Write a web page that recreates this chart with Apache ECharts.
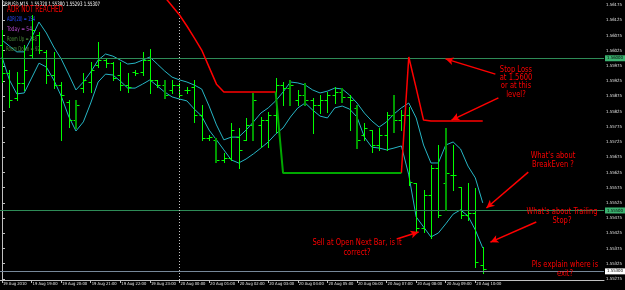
<!DOCTYPE html>
<html><head><meta charset="utf-8">
<script src="https://cdn.jsdelivr.net/npm/echarts@6/dist/echarts.min.js"></script>
<style>html,body{margin:0;padding:0;background:#000;}#c{width:625px;height:290px;}</style>
</head><body><div id="c"></div>
<script>
// ---- data (GBPUSD M15, bar index 0 = 19 Aug 2010 18:00) ----
const OPEN = [1.56044,1.55952,1.55869,1.55919,1.56011,1.56076,1.56021,1.55945,1.55912,1.55856,1.55797,1.55902,1.55922,1.55978,1.55994,1.55984,1.55945,1.55912,1.55955,1.55955,1.55994,1.55929,1.55912,1.55896,1.55912,1.55896,1.55906,1.55814,1.55738,1.55732,1.55666,1.55672,1.55741,1.55732,1.55781,1.55781,1.55797,1.55814,1.55912,1.55902,1.55863,1.55879,1.55863,1.55846,1.55863,1.55879,1.55889,1.55873,1.55837,1.55748,1.55764,1.55715,1.55748,1.55814,1.55797,1.55814,1.55590,1.55442,1.55551,1.55640,1.55590,1.55617,1.55577,1.55485,1.55492,1.55320];
const HIGH = [1.56093,1.55962,1.55955,1.56044,1.56142,1.56086,1.56027,1.56021,1.55922,1.55863,1.55863,1.55952,1.55988,1.56053,1.56001,1.55988,1.55988,1.55952,1.55962,1.56021,1.56030,1.55929,1.55929,1.55929,1.55919,1.55906,1.55929,1.55846,1.55748,1.55738,1.55689,1.55787,1.55771,1.55804,1.55886,1.55807,1.55823,1.55935,1.55922,1.55929,1.55896,1.55919,1.55869,1.55879,1.55889,1.55906,1.55902,1.55879,1.55846,1.55787,1.55764,1.55771,1.55823,1.55879,1.55830,1.55840,1.55590,1.55567,1.55649,1.55715,1.55771,1.55715,1.55577,1.55590,1.55574,1.55380];
const LOW = [1.55922,1.55840,1.55863,1.55896,1.56004,1.56017,1.55919,1.55902,1.55732,1.55774,1.55771,1.55889,1.55889,1.55971,1.55971,1.55929,1.55896,1.55889,1.55945,1.55945,1.55886,1.55906,1.55869,1.55886,1.55873,1.55886,1.55791,1.55732,1.55732,1.55659,1.55659,1.55666,1.55640,1.55732,1.55732,1.55708,1.55708,1.55758,1.55846,1.55846,1.55846,1.55846,1.55754,1.55820,1.55823,1.55853,1.55856,1.55764,1.55705,1.55732,1.55692,1.55699,1.55699,1.55758,1.55764,1.55584,1.55429,1.55429,1.55410,1.55479,1.55502,1.55567,1.55475,1.55469,1.55314,1.55293];
const CLOSE = [1.55952,1.55863,1.55919,1.55962,1.56093,1.56027,1.55945,1.55912,1.55879,1.55797,1.55846,1.55929,1.55962,1.55994,1.55984,1.55935,1.55912,1.55906,1.55952,1.55994,1.55929,1.55912,1.55879,1.55912,1.55879,1.55896,1.55814,1.55738,1.55741,1.55666,1.55672,1.55764,1.55699,1.55781,1.55863,1.55797,1.55814,1.55912,1.55902,1.55912,1.55879,1.55863,1.55846,1.55863,1.55879,1.55889,1.55873,1.55863,1.55732,1.55771,1.55715,1.55748,1.55814,1.55797,1.55814,1.55594,1.55442,1.55551,1.55640,1.55485,1.55623,1.55617,1.55485,1.55492,1.55331,1.55307];
// bars highlighted by the dark-green histogram overlay
const MARKED_BARS = [10,22,29,34,39,41,46,48,53,60];
const UPPER = [1.56060,1.56040,1.56021,1.56021,1.56067,1.56119,1.56083,1.56037,1.55998,1.55948,1.55896,1.55922,1.55955,1.55994,1.56014,1.56007,1.55994,1.55981,1.55984,1.55994,1.56004,1.55981,1.55958,1.55938,1.55929,1.55922,1.55912,1.55899,1.55843,1.55781,1.55732,1.55741,1.55741,1.55764,1.55791,1.55820,1.55837,1.55860,1.55889,1.55922,1.55919,1.55912,1.55896,1.55886,1.55892,1.55902,1.55899,1.55879,1.55853,1.55820,1.55794,1.55774,1.55791,1.55817,1.55837,1.55853,1.55804,1.55715,1.55656,1.55656,1.55715,1.55725,1.55702,1.55646,1.55607,1.55525];
const LOWER = [1.56004,1.55929,1.55883,1.55886,1.55935,1.55984,1.55971,1.55929,1.55876,1.55810,1.55761,1.55791,1.55853,1.55922,1.55948,1.55945,1.55925,1.55902,1.55902,1.55915,1.55929,1.55909,1.55889,1.55873,1.55866,1.55860,1.55833,1.55810,1.55764,1.55732,1.55699,1.55666,1.55656,1.55669,1.55686,1.55705,1.55725,1.55751,1.55771,1.55807,1.55837,1.55853,1.55830,1.55810,1.55804,1.55837,1.55843,1.55833,1.55807,1.55741,1.55708,1.55705,1.55699,1.55705,1.55712,1.55617,1.55479,1.55446,1.55413,1.55426,1.55456,1.55488,1.55502,1.55482,1.55436,1.55377];
const N = null;
const RED_STOP = [N,N,N,N,N,N,N,N,N,N,N,N,N,N,N,N,N,N,N,N,N,1.56234,1.56201,1.56172,1.56142,1.56106,1.56067,1.56027,1.55971,1.55915,1.55889,1.55889,1.55889,1.55889,1.55889,1.55889,1.55889,1.55889,N,N,N,N,N,N,N,N,N,N,N,N,N,N,N,N,1.55623,1.56004,1.55902,1.55797,1.55794,1.55794,1.55794,1.55794,1.55794,1.55794,1.55794,1.55794];
const GREEN_STOP = [N,N,N,N,N,N,N,N,N,N,N,N,N,N,N,N,N,N,N,N,N,N,N,N,N,N,N,N,N,N,N,N,N,N,N,N,N,1.55889,1.55623,1.55623,1.55623,1.55623,1.55623,1.55623,1.55623,1.55623,1.55623,1.55623,1.55623,1.55623,1.55623,1.55623,1.55623,1.55623,1.55623,N,N,N,N,N,N,N,N,N,N,N];
const H_LINES = [1.56000, 1.55500];
const BID = 1.55300;
const SEPARATOR_BAR = 24;
const HOUR_BARS = [0,4,8,12,16,20,24,28,32,36,40,44,48,52,56,60,64];
const TIME_LABELS = ['19 Aug 2010','19 Aug 19:00','19 Aug 20:00','19 Aug 21:00','19 Aug 22:00','19 Aug 23:00','20 Aug 00:00','20 Aug 01:00','20 Aug 02:00','20 Aug 03:00','20 Aug 04:00','20 Aug 05:00','20 Aug 06:00','20 Aug 07:00','20 Aug 08:00','20 Aug 09:00','20 Aug 10:00'];
const PRICE_TICKS = [1.55275,1.55325,1.55375,1.55425,1.55475,1.55525,1.55575,1.55625,1.55675,1.55725,1.55775,1.55825,1.55875,1.55925,1.55975,1.56025,1.56075,1.56125,1.56175];
// arrows: [fromBar, fromPrice, toBar, toPrice]
const ARROWS = [
  [66.71,1.55948,59.97,1.55998],
  [67.12,1.55870,60.78,1.55797],
  [71.16,1.55626,65.50,1.55508],
  [72.24,1.55462,66.04,1.55396],
  [53.37,1.55406,56.33,1.55429]
];

// ---- font selection / fitting ----
const mctx = document.createElement('canvas').getContext('2d');
function measure(font, s){ mctx.font = font; return mctx.measureText(s).width; }
function hasFont(f){
  const s = 'abcdefghijklmnop 0123456789 WMQ';
  return measure("50px '" + f + "', monospace", s) !== measure('50px monospace', s);
}
const FAM = ['Liberation Sans Narrow','Arial Narrow','DejaVu Sans Condensed'].find(hasFont) || 'Liberation Sans';
const FONT = "'" + FAM + "', 'Liberation Sans', sans-serif";
function fit(text, target){ return +(target * 100 / measure("100px " + FONT, text)).toFixed(2); }
const TIME_FS = fit('19 Aug 19:00', 25);
const PRICE_FS = fit('1.56175', 16);

const chart = echarts.init(document.getElementById('c'), null, {renderer:'canvas'});

function ohlcItem(params, api){
  const i = api.value(0);
  const o = api.coord([i, api.value(1)]);
  const h = api.coord([i, api.value(2)]);
  const l = api.coord([i, api.value(3)]);
  const c = api.coord([i, api.value(4)]);
  const x = Math.round(o[0]) + 0.5;
  const st = {stroke:'#00ff00', lineWidth:1};
  return {type:'group', children:[
    {type:'line', shape:{x1:x, y1:Math.round(h[1]), x2:x, y2:Math.round(l[1])+1}, style:st},
    {type:'line', shape:{x1:x-3, y1:Math.round(o[1])+0.5, x2:x, y2:Math.round(o[1])+0.5}, style:st},
    {type:'line', shape:{x1:x, y1:Math.round(c[1])+0.5, x2:x+3, y2:Math.round(c[1])+0.5}, style:st}
  ]};
}
function histItem(params, api){
  const i = api.value(0);
  const h = api.coord([i, api.value(1)]);
  const l = api.coord([i, api.value(2)]);
  const x = Math.round(h[0]);
  return {type:'rect', shape:{x:x-1, y:Math.round(h[1]), width:2, height:Math.round(l[1])-Math.round(h[1])+1}, style:{fill:'#009a00'}};
}

const markData = [];
H_LINES.forEach(v => markData.push({yAxis:v, lineStyle:{color:'#2e8b57', width:1, type:'solid'},
  label:{show:true, position:'end', distance:1, formatter:v.toFixed(5), backgroundColor:'#3cb371', color:'#000', fontSize:PRICE_FS, fontFamily:FONT, padding:[1,3,1,2]}}));
markData.push({yAxis:BID, lineStyle:{color:'#778899', width:1, type:'solid'},
  label:{show:true, position:'end', distance:1, formatter:BID.toFixed(5), backgroundColor:'#ffffff', color:'#000', fontSize:PRICE_FS, fontFamily:FONT, padding:[1,3,1,2]}});
markData.push({xAxis:SEPARATOR_BAR, lineStyle:{color:'#c8c8c8', width:1, type:[1,2]}, label:{show:false}});
ARROWS.forEach(a => markData.push([
  {coord:[a[0],a[1]], symbol:'none', lineStyle:{color:'#ff0000', width:1.5, type:'solid'}, label:{show:false}},
  {coord:[a[2],a[3]], symbol:'arrow', symbolSize:[6,8]}
]));

// text drawn at a readable height and squeezed horizontally to the reference width
function txt(x, y, text, fill, size, sx, align, lh){
  return {type:'text', x:x, y:y, z:100, silent:true, scaleX:sx, scaleY:1,
    style:{text:text, fill:fill, font:size+'px '+FONT, align:align||'left', verticalAlign:'middle', lineHeight:lh||size}};
}
function sq(text, size, target){ return Math.min(1, target / measure(size + 'px ' + FONT, text)); }
const NOTE_SIZE = 9;
const NOTE_SX = sq("What's about Trailing", NOTE_SIZE, 71);
const INFO_SIZE = 6.5;

// edge placeholders keep the auto min/max label check away from the real labels
const X_LABEL_VALUES = [-0.2].concat(HOUR_BARS, [81.3]);

const option = {
  backgroundColor:'#000',
  animation:false,
  grid:{left:0, right:19, top:0, bottom:10},
  xAxis:{type:'value', min:-0.27, max:81.4,
    axisLine:{show:true, lineStyle:{color:'#c0c0c0', width:1}},
    splitLine:{show:false},
    axisTick:{show:true, customValues:HOUR_BARS, length:3, lineStyle:{color:'#c0c0c0'}},
    axisLabel:{show:true, customValues:X_LABEL_VALUES, showMinLabel:false, showMaxLabel:false, hideOverlap:false,
      formatter:v => { const k = HOUR_BARS.indexOf(Math.round(v)); return (k >= 0 && Math.abs(v - HOUR_BARS[k]) < 0.01) ? TIME_LABELS[k] : ''; },
      color:'#e6e6e6', fontSize:TIME_FS, fontFamily:FONT, align:'left', margin:2, padding:[0,0,0,1]}},
  yAxis:{type:'value', position:'right', min:1.552716, max:1.561914,
    axisLine:{show:true, lineStyle:{color:'#c0c0c0', width:1}},
    splitLine:{show:false},
    axisTick:{show:true, customValues:PRICE_TICKS, length:3, lineStyle:{color:'#c0c0c0'}},
    axisLabel:{show:true, customValues:PRICE_TICKS, showMinLabel:true, showMaxLabel:true, formatter:v => v.toFixed(5), color:'#e6e6e6', fontSize:PRICE_FS, fontFamily:FONT, margin:2}},
  series:[
    {type:'line', name:'upper', data:UPPER.map((v,i)=>[i,v]), showSymbol:false, symbol:'none',
      lineStyle:{color:'#26b5c4', width:1}, z:3,
      markLine:{silent:true, symbol:['none','none'], animation:false, precision:5, data:markData}},
    {type:'line', name:'lower', data:LOWER.map((v,i)=>[i,v]), showSymbol:false, symbol:'none', lineStyle:{color:'#26b5c4', width:1}, z:3},
    {type:'custom', name:'bars', renderItem:ohlcItem, data:OPEN.map((o,i)=>[i,o,HIGH[i],LOW[i],CLOSE[i]]), encode:{x:0, y:[1,2,3,4]}, z:4},
    {type:'custom', name:'hist', renderItem:histItem, data:MARKED_BARS.map(i=>[i,HIGH[i],LOW[i]]), encode:{x:0, y:[1,2]}, z:5},
    {type:'line', name:'redStop', data:RED_STOP.map((v,i)=>[i,v]), showSymbol:false, symbol:'none', connectNulls:false, lineStyle:{color:'#ff0000', width:1.5}, z:6},
    {type:'line', name:'greenStop', data:GREEN_STOP.map((v,i)=>[i,v]), showSymbol:false, symbol:'none', connectNulls:false, lineStyle:{color:'#00a800', width:2}, z:6}
  ],
  graphic:[
    txt(2, 4, 'GBPUSD,M15  1.55320 1.55380 1.55293 1.55307', '#ffffff', 6, sq('GBPUSD,M15  1.55320 1.55380 1.55293 1.55307', 6, 98)),
    txt(7, 10, 'ADR NOT REACHED', '#ff0000', 8, sq('ADR NOT REACHED', 8, 56)),
    txt(7, 19, 'ADR(20) = 154', '#2848ff', INFO_SIZE, sq('ADR(20) = 154', INFO_SIZE, 28)),
    txt(7, 29, 'Today = 54', '#b048c8', INFO_SIZE, sq('Today = 54', INFO_SIZE, 25)),
    txt(7, 39, 'Room Up = 148', '#4a8a3a', INFO_SIZE, sq('Room Up = 148', INFO_SIZE, 30)),
    txt(6, 49, 'Room Down = 92', '#4a8a3a', INFO_SIZE, sq('Room Down = 92', INFO_SIZE, 34)),
    txt(516, 82, 'Stop Loss\nat 1.5600\nor at this\nlevel?', '#ff0000', NOTE_SIZE, NOTE_SX, 'center', 8.3),
    txt(553, 160, "What's about\nBreakEven ?", '#ff0000', NOTE_SIZE, NOTE_SX, 'center', 9),
    txt(562, 216, "What's about Trailing\nStop?", '#ff0000', NOTE_SIZE, NOTE_SX, 'center', 8.5),
    txt(565, 269.5, 'Pls explain where is\nexit?', '#ff0000', NOTE_SIZE, NOTE_SX, 'center', 9),
    txt(357, 247.5, 'Sell at Open Next Bar, is it\ncorrect?', '#ff0000', NOTE_SIZE, NOTE_SX, 'center', 9.5)
  ]
};
chart.setOption(option);
</script></body></html>
